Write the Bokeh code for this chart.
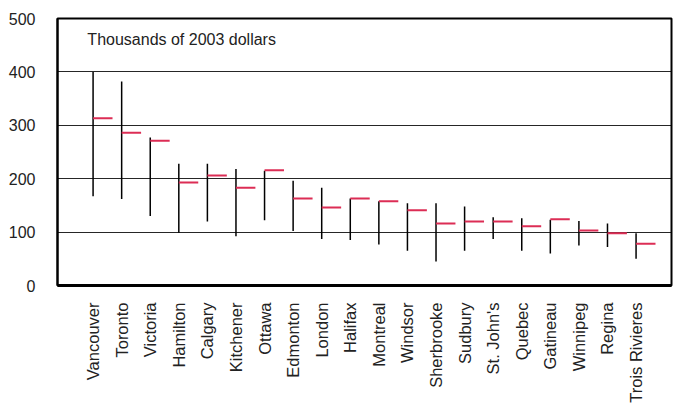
import math
from bokeh.plotting import figure
from bokeh.models import Range1d, FixedTicker, Label, ColumnDataSource
from bokeh.embed import file_html
from bokeh.resources import INLINE

cities = ["Vancouver", "Toronto", "Victoria", "Hamilton", "Calgary", "Kitchener",
          "Ottawa", "Edmonton", "London", "Halifax", "Montreal", "Windsor",
          "Sherbrooke", "Sudbury", "St. John's", "Quebec", "Gatineau", "Winnipeg",
          "Regina", "Trois Rivieres"]
high = [400, 382, 277, 228, 228, 218, 215, 196, 183, 163, 158, 154,
        154, 148, 128, 126, 123, 121, 116, 98]
low = [167, 162, 130, 99, 120, 92, 122, 102, 87, 85, 77, 65,
       45, 65, 87, 65, 60, 75, 72, 50]
mid = [313, 286, 271, 193, 206, 183, 216, 163, 146, 163, 158, 141,
       116, 120, 120, 111, 124, 103, 98, 78]
y_ticks = [0, 100, 200, 300, 400, 500]
title_text = "Thousands of 2003 dollars"

FONT = "Liberation Sans"
xs = list(range(len(cities)))
src = ColumnDataSource(dict(x=xs, x2=[x + 0.68 for x in xs], high=high, low=low, mid=mid))

p = figure(width=673, height=405, output_backend="svg", toolbar_location=None,
           x_range=Range1d(-1.245, 20.24), y_range=Range1d(0, 500),
           min_border_left=57, min_border_right=2, min_border_top=18, min_border_bottom=0)

p.outline_line_color = "black"
p.outline_line_width = 2
p.xgrid.grid_line_color = None
p.ygrid.ticker = FixedTicker(ticks=y_ticks)
p.ygrid.grid_line_color = "black"
p.ygrid.grid_line_width = 1
p.ygrid.grid_line_alpha = 0.85

p.segment(x0="x", y0="low", x1="x", y1="high", source=src, line_color="black", line_width=1.5)
p.segment(x0="x", y0="mid", x1="x2", y1="mid", source=src, line_color="#DC2D55", line_width=2)

p.yaxis.ticker = FixedTicker(ticks=y_ticks)
p.yaxis.major_tick_line_color = None
p.yaxis.minor_tick_line_color = None
p.yaxis.axis_line_color = "black"
p.yaxis.axis_line_width = 2
p.yaxis.major_label_text_font = FONT
p.yaxis.major_label_text_font_size = "16px"
p.yaxis.major_label_text_color = "#222222"
p.yaxis.major_label_standoff = 16

p.xaxis.ticker = FixedTicker(ticks=xs)
p.xaxis.major_label_overrides = {i: c for i, c in enumerate(cities)}
p.xaxis.major_label_orientation = math.pi / 2
p.xaxis.major_tick_line_color = None
p.xaxis.minor_tick_line_color = None
p.xaxis.axis_line_color = "black"
p.xaxis.axis_line_width = 3
p.xaxis.major_label_text_font = FONT
p.xaxis.major_label_text_font_size = "16.5px"
p.xaxis.major_label_text_color = "#222222"
p.xaxis.major_label_standoff = 11

p.add_layout(Label(x=-0.2, y=460, text=title_text, text_font=FONT, text_font_size="16px",
                   text_baseline="middle", text_color="#222222"))

open("out.html", "w").write(file_html(p, INLINE))
